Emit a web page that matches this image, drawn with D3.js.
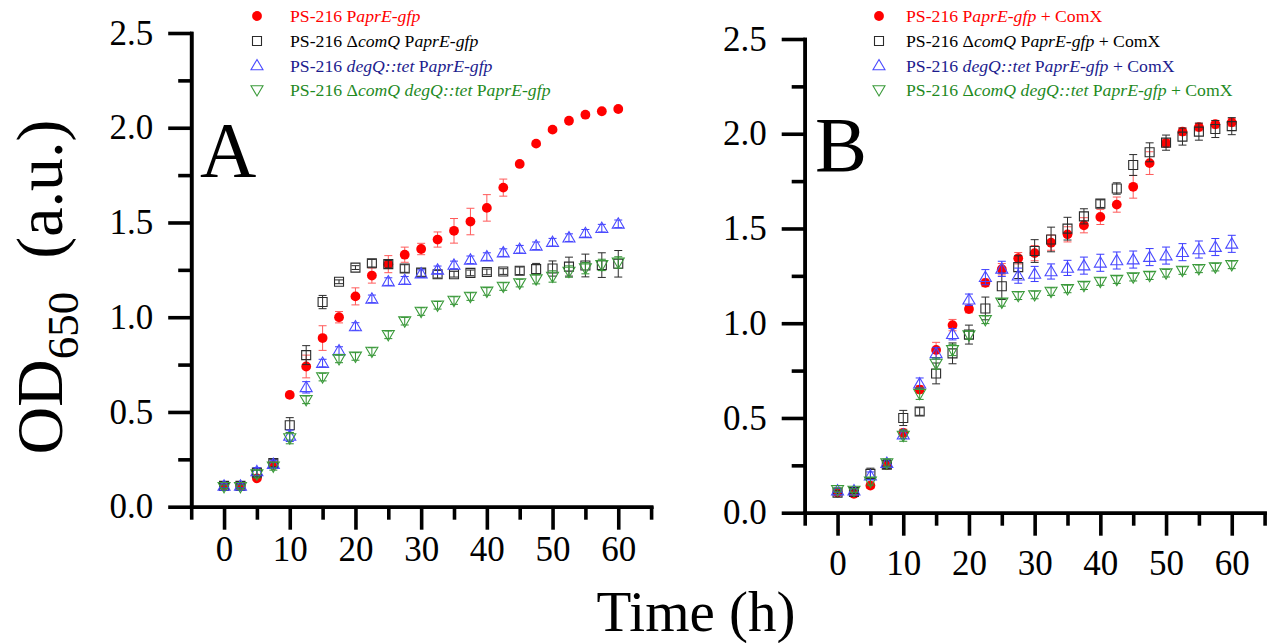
<!DOCTYPE html>
<html>
<head>
<meta charset="utf-8">
<script src="https://cdn.jsdelivr.net/npm/d3@7"></script>
<style>
  body { margin: 0; background: #fff; }
  svg { display: block; font-family: "Liberation Serif", "Times New Roman", serif; }
  svg text { font-family: "Liberation Serif", "Times New Roman", serif; }
  .axis path, .axis line { stroke: #000; stroke-width: 3.6; }
  .axis text { font-size: 35px; fill: #000; }
</style>
</head>
<body>
<svg id="chart" width="1271" height="643"></svg>
<script>
// sampling times (h)
const time = [0, 2.5, 5, 7.5, 10, 12.5, 15, 17.5, 20, 22.5, 25, 27.5, 30, 32.5, 35, 37.5, 40, 42.5, 45, 47.5, 50, 52.5, 55, 57.5, 60];

const xTicks = [0, 10, 20, 30, 40, 50, 60];
const xMinor = [-5, 5, 15, 25, 35, 45, 55, 65];
const yTicks = [0, 0.5, 1.0, 1.5, 2.0, 2.5];
const yMinor = [0.25, 0.75, 1.25, 1.75, 2.25];

// panel A
const aWt    = [0.11, 0.11, 0.15, 0.22, 0.59, 0.74, 0.89, 1.00, 1.11, 1.22, 1.28, 1.33, 1.36, 1.41, 1.456, 1.505, 1.577, 1.684, 1.809, 1.916, 1.99, 2.037, 2.069, 2.087, 2.099];
const aWtErr = [0.01, 0.01, 0.01, 0.01, 0.015, 0.06, 0.065, 0.03, 0.045, 0.04, 0.045, 0.04, 0.03, 0.04, 0.065, 0.07, 0.07, 0.045, 0.01, 0.01, 0.01, 0.01, 0.01, 0.01, 0.01];
const aComQ    = [0.11, 0.11, 0.18, 0.23, 0.43, 0.80, 1.08, 1.187, 1.262, 1.285, 1.28, 1.257, 1.236, 1.227, 1.227, 1.234, 1.239, 1.241, 1.245, 1.254, 1.257, 1.267, 1.273, 1.275, 1.282];
const aComQErr = [0.01, 0.01, 0.02, 0.02, 0.04, 0.05, 0.035, 0.01, 0.01, 0.02, 0.02, 0.02, 0.02, 0.02, 0.015, 0.015, 0.015, 0.015, 0.02, 0.03, 0.04, 0.05, 0.06, 0.065, 0.07];
const aDegQ    = [0.11, 0.11, 0.186, 0.225, 0.374, 0.63, 0.758, 0.824, 0.951, 1.097, 1.188, 1.195, 1.23, 1.25, 1.276, 1.303, 1.32, 1.341, 1.359, 1.377, 1.396, 1.42, 1.443, 1.47, 1.493];
const aDegQErr = [0.01, 0.01, 0.02, 0.02, 0.03, 0.03, 0.02, 0.02, 0.02, 0.02, 0.02, 0.02, 0.02, 0.02, 0.02, 0.02, 0.02, 0.02, 0.02, 0.02, 0.02, 0.02, 0.02, 0.02, 0.02];
const aBoth    = [0.105, 0.105, 0.172, 0.213, 0.362, 0.564, 0.684, 0.78, 0.793, 0.819, 0.907, 0.979, 1.03, 1.063, 1.088, 1.109, 1.136, 1.162, 1.18, 1.201, 1.215, 1.241, 1.259, 1.276, 1.289];
const aBothErr = [0.01, 0.01, 0.02, 0.02, 0.03, 0.02, 0.02, 0.02, 0.02, 0.02, 0.02, 0.02, 0.02, 0.02, 0.02, 0.02, 0.02, 0.02, 0.02, 0.025, 0.03, 0.03, 0.03, 0.03, 0.03];

// panel B (+ ComX)
const bWt    = [0.106, 0.10, 0.143, 0.253, 0.421, 0.65, 0.859, 0.99, 1.075, 1.213, 1.285, 1.343, 1.37, 1.425, 1.469, 1.517, 1.561, 1.626, 1.72, 1.845, 1.95, 2.011, 2.035, 2.05, 2.06];
const bWtErr = [0.01, 0.01, 0.015, 0.02, 0.02, 0.02, 0.04, 0.03, 0.02, 0.02, 0.03, 0.03, 0.04, 0.04, 0.04, 0.04, 0.04, 0.04, 0.06, 0.06, 0.02, 0.02, 0.02, 0.02, 0.02];
const bComQ    = [0.106, 0.11, 0.205, 0.253, 0.50, 0.534, 0.735, 0.841, 0.94, 1.078, 1.195, 1.296, 1.381, 1.442, 1.499, 1.564, 1.631, 1.711, 1.835, 1.902, 1.953, 1.985, 2.011, 2.025, 2.04];
const bComQErr = [0.01, 0.01, 0.03, 0.02, 0.04, 0.02, 0.055, 0.055, 0.05, 0.06, 0.07, 0.06, 0.06, 0.065, 0.06, 0.04, 0.02, 0.03, 0.055, 0.05, 0.04, 0.045, 0.045, 0.045, 0.045];
const bDegQ    = [0.117, 0.117, 0.195, 0.262, 0.412, 0.681, 0.841, 0.942, 1.124, 1.243, 1.287, 1.251, 1.26, 1.273, 1.292, 1.304, 1.319, 1.331, 1.336, 1.349, 1.357, 1.375, 1.389, 1.402, 1.419];
const bDegQErr = [0.01, 0.01, 0.02, 0.02, 0.02, 0.03, 0.03, 0.03, 0.03, 0.04, 0.04, 0.04, 0.04, 0.04, 0.04, 0.045, 0.045, 0.045, 0.045, 0.045, 0.045, 0.045, 0.045, 0.045, 0.045];
const bBoth    = [0.12, 0.117, 0.165, 0.262, 0.407, 0.628, 0.787, 0.859, 0.937, 1.018, 1.11, 1.145, 1.149, 1.167, 1.181, 1.198, 1.22, 1.23, 1.243, 1.251, 1.264, 1.278, 1.287, 1.296, 1.308];
const bBothErr = [0.01, 0.01, 0.02, 0.02, 0.03, 0.03, 0.03, 0.03, 0.02, 0.02, 0.02, 0.02, 0.02, 0.02, 0.02, 0.02, 0.02, 0.02, 0.02, 0.02, 0.02, 0.02, 0.02, 0.02, 0.02];

// legend labels: [text, italic?] pieces
const legendBase = [
  [["PS-216 P", false], ["aprE-gfp", true]],
  [["PS-216 Δ", false], ["comQ", true], [" P", false], ["aprE-gfp", true]],
  [["PS-216 ", false], ["degQ::tet", true], [" P", false], ["aprE-gfp", true]],
  [["PS-216 Δ", false], ["comQ degQ::tet", true], [" P", false], ["aprE-gfp", true]]
];

const styles = [
  { sym: "circle",   mark: "#ff0000", err: "#ff5a5a", text: "#ff0000" },
  { sym: "square",   mark: "#2b2b2b", err: "#2b2b2b", text: "#000000" },
  { sym: "triUp",    mark: "#4a4aff", err: "#3a3aff", text: "#1c1c8e" },
  { sym: "triDown",  mark: "#3b9b3b", err: "#2f8f2f", text: "#1f8a1f" }
];

const svg = d3.select("#chart");

function symbolPath(type) {
  if (type === "triUp") return "M0,-6L6,4.3L-6,4.3Z";
  if (type === "triDown") return "M0,6L6,-4.3L-6,-4.3Z";
  return "M-4.5,-4.5H4.5V4.5H-4.5Z";
}

function drawMark(g, type, st, cx, cy) {
  if (type === "circle") {
    g.append("circle").attr("cx", cx).attr("cy", cy).attr("r", 4.9).attr("fill", st.mark);
  } else {
    g.append("path").attr("d", symbolPath(type)).attr("transform", `translate(${cx},${cy})`)
      .attr("fill", "none").attr("stroke", st.mark).attr("stroke-width", 1.1);
  }
}

function drawPanel(p) {
  const x = d3.scaleLinear().domain([-5, 65]).range([p.x0, p.x0 + 459.9]);
  const y = d3.scaleLinear().domain([0, 2.5]).range([p.y0, p.y0 - 473.7]);
  const g = svg.append("g");

  // minor ticks first, then major axes
  g.append("g").attr("class", "axis").attr("transform", `translate(0,${p.y0})`)
    .call(d3.axisBottom(x).tickValues(xMinor).tickSize(13).tickSizeOuter(0).tickFormat(""));
  g.append("g").attr("class", "axis").attr("transform", `translate(0,${p.y0})`)
    .call(d3.axisBottom(x).tickValues(xTicks).tickSize(23).tickSizeOuter(0).tickPadding(p.xPad));
  g.append("g").attr("class", "axis").attr("transform", `translate(${p.x0},0)`)
    .call(d3.axisLeft(y).tickValues(yMinor).tickSize(13).tickSizeOuter(0).tickFormat(""));
  g.append("g").attr("class", "axis").attr("transform", `translate(${p.x0},0)`)
    .call(d3.axisLeft(y).tickValues(yTicks).tickSize(23).tickSizeOuter(0).tickPadding(15).tickFormat(d3.format(".1f")));
  g.selectAll(".axis path").attr("stroke-linecap", "square");
  g.selectAll(".axis").attr("font-family", null);

  // series with error bars
  p.series.forEach((s, i) => {
    const st = styles[i];
    const sg = g.append("g");
    const pts = time.map((t, k) => ({ t, v: s.v[k], e: s.e[k] }));
    pts.forEach(d => {
      const cx = x(d.t), top = y(d.v + d.e), bot = y(d.v - d.e);
      sg.append("line").attr("x1", cx).attr("x2", cx).attr("y1", top).attr("y2", bot)
        .attr("stroke", st.err).attr("stroke-width", 1);
      [top, bot].forEach(yy => sg.append("line").attr("x1", cx - 4).attr("x2", cx + 4)
        .attr("y1", yy).attr("y2", yy).attr("stroke", st.err).attr("stroke-width", 1));
      drawMark(sg, st.sym, st, cx, y(d.v));
    });
  });

  // panel letter
  g.append("text").attr("x", p.letterX).attr("y", p.letterY).attr("font-size", 78)
    .attr("fill", "#000").text(p.letter);

  // legend
  const rows = [16, 41, 65.5, 90];
  legendBase.forEach((parts, i) => {
    const st = styles[i];
    drawMark(g, st.sym, st, p.legSym, rows[i]);
    const t = g.append("text").attr("x", p.legText).attr("y", rows[i] + 6)
      .attr("font-size", 17.7).attr("fill", st.text);
    parts.concat(p.suffix ? [[p.suffix, false]] : []).forEach(([str, it]) => {
      t.append("tspan").attr("font-style", it ? "italic" : "normal").text(str);
    });
  });
}

drawPanel({
  x0: 191.2, y0: 506.7, xPad: 6, letter: "A", letterX: 200, letterY: 176,
  legSym: 257, legText: 290, suffix: null,
  series: [{ v: aWt, e: aWtErr }, { v: aComQ, e: aComQErr }, { v: aDegQ, e: aDegQErr }, { v: aBoth, e: aBothErr }]
});
drawPanel({
  x0: 804.7, y0: 512.7, xPad: 14, letter: "B", letterX: 815, letterY: 170.7,
  legSym: 879, legText: 906, suffix: " + ComX",
  series: [{ v: bWt, e: bWtErr }, { v: bComQ, e: bComQErr }, { v: bDegQ, e: bDegQErr }, { v: bBoth, e: bBothErr }]
});

// axis titles
svg.append("text").attr("x", 696).attr("y", 631).attr("text-anchor", "middle")
  .attr("font-size", 57).attr("fill", "#000").text("Time (h)");

const yt = svg.append("text").attr("transform", "translate(62,287) rotate(-90)")
  .attr("text-anchor", "middle").attr("font-size", 66).attr("fill", "#000")
  .style("white-space", "pre");
yt.append("tspan").text("OD");
yt.append("tspan").attr("font-size", 45).attr("dy", 16).text("650");
yt.append("tspan").attr("dy", -16).text("  (a.u.)");
</script>
</body>
</html>
